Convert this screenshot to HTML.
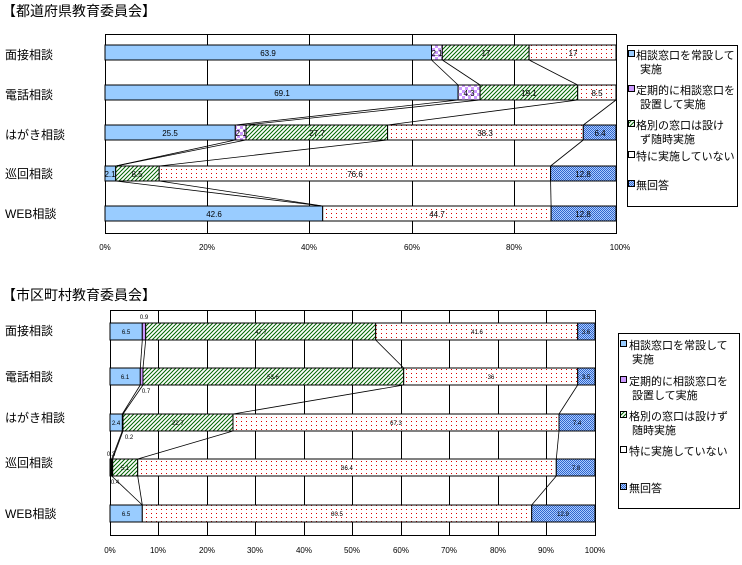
<!DOCTYPE html>
<html><head><meta charset="utf-8"><style>
body{margin:0;background:#fff;width:742px;height:560px;overflow:hidden}
svg text{font-family:"Liberation Sans","Noto Sans CJK JP",sans-serif}
</style></head><body>
<svg width="742" height="560" viewBox="0 0 742 560" xmlns="http://www.w3.org/2000/svg">
<defs>
<pattern id="pu" width="6" height="6" patternUnits="userSpaceOnUse"><rect width="6" height="6" fill="#fff"/><rect width="3" height="3" fill="#cc99ff"/><rect x="3" y="3" width="3" height="3" fill="#cc99ff"/></pattern>
<pattern id="gr" width="4" height="4" patternUnits="userSpaceOnUse"><rect width="4" height="4" fill="#fff"/><path d="M-1,5 L5,-1 M-1,1 L1,-1 M3,5 L5,3" stroke="#006600" stroke-width="1"/></pattern>
<pattern id="dt" width="5" height="4" patternUnits="userSpaceOnUse"><rect width="5" height="4" fill="#fff"/><rect x="1" y="1" width="1" height="1" fill="#dd0000"/></pattern>
<pattern id="nr" width="2" height="2" patternUnits="userSpaceOnUse"><rect width="2" height="2" fill="#aaccff"/><rect width="1" height="1" fill="#3366cc"/><rect x="1" y="1" width="1" height="1" fill="#3366cc"/></pattern>
</defs>

<!-- TOP -->
<text x="2" y="16" font-size="14">【都道府県教育委員会】</text>
<g font-size="12">
<text x="5" y="59">面接相談</text><text x="5" y="99">電話相談</text><text x="5" y="139">はがき相談</text><text x="5" y="178">巡回相談</text><text x="5" y="218">WEB相談</text>
</g>
<g stroke="#000" stroke-width="1">
<line x1="207.5" y1="34" x2="207.5" y2="234"/><line x1="309.5" y1="34" x2="309.5" y2="234"/><line x1="412.5" y1="34" x2="412.5" y2="234"/><line x1="514.5" y1="34" x2="514.5" y2="234"/>
<rect x="105.5" y="34.5" width="511" height="199" fill="none"/>
</g>
<g stroke="#000" stroke-width="1">
<rect x="105" y="45" width="326.5" height="15" fill="#99ccff"/><rect x="431.5" y="45" width="10.8" height="15" fill="url(#pu)"/><rect x="442.3" y="45" width="86.8" height="15" fill="url(#gr)"/><rect x="529.1" y="45" width="86.9" height="15" fill="url(#dt)"/>
<rect x="105" y="85" width="353.1" height="15" fill="#99ccff"/><rect x="458.1" y="85" width="22" height="15" fill="url(#pu)"/><rect x="480.1" y="85" width="97.6" height="15" fill="url(#gr)"/><rect x="577.7" y="85" width="38.3" height="15" fill="url(#dt)"/>
<rect x="105" y="125" width="130.3" height="15" fill="#99ccff"/><rect x="235.3" y="125" width="10.7" height="15" fill="url(#pu)"/><rect x="246" y="125" width="141.6" height="15" fill="url(#gr)"/><rect x="387.6" y="125" width="195.7" height="15" fill="url(#dt)"/><rect x="583.3" y="125" width="32.7" height="15" fill="url(#nr)"/>
<rect x="105" y="166" width="10.7" height="15" fill="#99ccff"/><rect x="115.7" y="166" width="43.5" height="15" fill="url(#gr)"/><rect x="159.2" y="166" width="391.4" height="15" fill="url(#dt)"/><rect x="550.6" y="166" width="65.4" height="15" fill="url(#nr)"/>
<rect x="105" y="206" width="217.7" height="15" fill="#99ccff"/><rect x="322.7" y="206" width="228.4" height="15" fill="url(#dt)"/><rect x="551.1" y="206" width="64.9" height="15" fill="url(#nr)"/>
</g>
<g stroke="#000" stroke-width="0.8">
<line x1="431.5" y1="60" x2="458.1" y2="85"/><line x1="442.3" y1="60" x2="480.1" y2="85"/><line x1="529.1" y1="60" x2="577.7" y2="85"/>
<line x1="458.1" y1="100" x2="235.3" y2="125"/><line x1="480.1" y1="100" x2="246" y2="125"/><line x1="577.7" y1="100" x2="387.6" y2="125"/><line x1="616" y1="100" x2="583.3" y2="125"/>
<line x1="235.3" y1="140" x2="115.7" y2="166"/><line x1="246" y1="140" x2="115.7" y2="166"/><line x1="387.6" y1="140" x2="159.2" y2="166"/><line x1="583.3" y1="140" x2="550.6" y2="166"/>
<line x1="115.7" y1="181" x2="322.7" y2="206"/><line x1="159.2" y1="181" x2="322.7" y2="206"/><line x1="550.6" y1="181" x2="551.1" y2="206"/>
</g>
<g font-size="8" text-anchor="middle">
<text x="268" y="56">63.9</text><text x="437" y="56">2.1</text><text x="486" y="56">17</text><text x="573" y="56">17</text>
<text x="282" y="96">69.1</text><text x="469" y="96">4.3</text><text x="529" y="96">19.1</text><text x="597" y="96">8.5</text>
<text x="170" y="136">25.5</text><text x="241" y="136">2.1</text><text x="317" y="136">27.7</text><text x="485" y="136">38.3</text><text x="600" y="136">6.4</text>
<text x="110" y="177">2.1</text><text x="137" y="177">8.5</text><text x="355" y="177">76.6</text><text x="583" y="177">12.8</text>
<text x="214" y="217">42.6</text><text x="437" y="217">44.7</text><text x="583" y="217">12.8</text>
<text x="105" y="250">0%</text><text x="207" y="250">20%</text><text x="309" y="250">40%</text><text x="412" y="250">60%</text><text x="514" y="250">80%</text><text x="620" y="250">100%</text>
</g>
<rect x="627.5" y="45.5" width="110" height="161" fill="#fff" stroke="#000"/>
<g font-size="11">
<rect x="628.5" y="50.5" width="6" height="6" fill="#99ccff" stroke="#000"/><text x="636" y="59">相談窓口を常設して</text><text x="640" y="73">実施</text>
<rect x="628.5" y="85.5" width="6" height="6" fill="#cc99ff" stroke="#000"/><text x="636" y="94">定期的に相談窓口を</text><text x="640" y="108">設置して実施</text>
<rect x="628.5" y="120.5" width="6" height="6" fill="url(#gr)" stroke="#000"/><text x="636" y="129">格別の窓口は設け</text><text x="640" y="143">ず随時実施</text>
<rect x="628.5" y="151.5" width="6" height="6" fill="#fff" stroke="#000"/><text x="636" y="160">特に実施していない</text>
<rect x="628.5" y="180.5" width="6" height="6" fill="url(#nr)" stroke="#000"/><text x="636" y="189">無回答</text>
</g>

<!-- BOTTOM -->
<text x="2" y="300" font-size="14">【市区町村教育委員会】</text>
<g font-size="12">
<text x="5" y="335">面接相談</text><text x="5" y="381">電話相談</text><text x="5" y="422">はがき相談</text><text x="5" y="467">巡回相談</text><text x="5" y="518">WEB相談</text>
</g>
<g stroke="#000" stroke-width="1">
<line x1="158.5" y1="310" x2="158.5" y2="536"/><line x1="207.5" y1="310" x2="207.5" y2="536"/><line x1="255.5" y1="310" x2="255.5" y2="536"/><line x1="304.5" y1="310" x2="304.5" y2="536"/><line x1="352.5" y1="310" x2="352.5" y2="536"/><line x1="401.5" y1="310" x2="401.5" y2="536"/><line x1="449.5" y1="310" x2="449.5" y2="536"/><line x1="498.5" y1="310" x2="498.5" y2="536"/><line x1="546.5" y1="310" x2="546.5" y2="536"/>
<rect x="110.5" y="310.5" width="485" height="225" fill="none"/>
</g>
<g stroke="#000" stroke-width="1">
<rect x="110" y="323" width="32.3" height="17" fill="#99ccff"/><rect x="142.3" y="323" width="3.4" height="17" fill="#cc99ff"/><rect x="145.7" y="323" width="230" height="17" fill="url(#gr)"/><rect x="375.7" y="323" width="202" height="17" fill="url(#dt)"/><rect x="577.7" y="323" width="17.3" height="17" fill="url(#nr)"/>
<rect x="110" y="368" width="30.3" height="17" fill="#99ccff"/><rect x="140.3" y="368" width="2.7" height="17" fill="#cc99ff"/><rect x="143" y="368" width="260.7" height="17" fill="url(#gr)"/><rect x="403.7" y="368" width="174" height="17" fill="url(#dt)"/><rect x="577.7" y="368" width="17.3" height="17" fill="url(#nr)"/>
<rect x="110" y="414" width="12.3" height="17" fill="#99ccff"/><rect x="123" y="414" width="110" height="17" fill="url(#gr)"/><rect x="233" y="414" width="326" height="17" fill="url(#dt)"/><rect x="559" y="414" width="36" height="17" fill="url(#nr)"/>
<rect x="110" y="459" width="2.7" height="17" fill="#000"/><rect x="112.7" y="459" width="25" height="17" fill="url(#gr)"/><rect x="137.7" y="459" width="418.6" height="17" fill="url(#dt)"/><rect x="556.3" y="459" width="38.7" height="17" fill="url(#nr)"/>
<rect x="110" y="505" width="32.3" height="17" fill="#99ccff"/><rect x="142.3" y="505" width="389.4" height="17" fill="url(#dt)"/><rect x="531.7" y="505" width="63.3" height="17" fill="url(#nr)"/>
</g>
<g stroke="#000" stroke-width="0.8">
<line x1="142.3" y1="340" x2="140.3" y2="368"/><line x1="145.7" y1="340" x2="143" y2="368"/><line x1="375.7" y1="340" x2="403.7" y2="368"/>
<line x1="140.3" y1="385" x2="122.3" y2="414"/><line x1="143" y1="385" x2="123" y2="414"/><line x1="403.7" y1="385" x2="233" y2="414"/><line x1="577.7" y1="385" x2="559" y2="414"/>
<line x1="122.3" y1="431" x2="111.7" y2="459"/><line x1="123" y1="431" x2="112.7" y2="459"/><line x1="233" y1="431" x2="137.7" y2="459"/><line x1="559" y1="431" x2="556.3" y2="459"/>
<line x1="111.7" y1="476" x2="142.3" y2="505"/><line x1="137.7" y1="476" x2="142.3" y2="505"/><line x1="556.3" y1="476" x2="531.7" y2="505"/>
</g>
<g font-size="6" text-anchor="middle">
<text x="126" y="334">6.5</text><text x="144" y="319">0.9</text><text x="261" y="334">47.7</text><text x="477" y="334">41.6</text><text x="586" y="334">3.6</text>
<text x="125" y="379">6.1</text><text x="146" y="393">0.7</text><text x="273" y="379">53.6</text><text x="491" y="379">36</text><text x="586" y="379">3.5</text>
<text x="116" y="425">2.4</text><text x="129" y="439">0.2</text><text x="178" y="425">22.7</text><text x="396" y="425">67.3</text><text x="577" y="425">7.4</text>
<text x="111" y="456">0.3</text><text x="115" y="484">0.4</text><text x="125" y="470">5.1</text><text x="347" y="470">86.4</text><text x="576" y="470">7.8</text>
<text x="126" y="516">6.5</text><text x="337" y="516">80.5</text><text x="563" y="516">12.9</text>
</g>
<g font-size="8" text-anchor="middle">
<text x="110" y="553">0%</text><text x="158" y="553">10%</text><text x="207" y="553">20%</text><text x="255" y="553">30%</text><text x="304" y="553">40%</text><text x="352" y="553">50%</text><text x="401" y="553">60%</text><text x="449" y="553">70%</text><text x="498" y="553">80%</text><text x="546" y="553">90%</text><text x="595" y="553">100%</text>
</g>
<rect x="618.5" y="333.5" width="121" height="175" fill="#fff" stroke="#000"/>
<g font-size="11">
<rect x="620.5" y="340.5" width="6" height="6" fill="#99ccff" stroke="#000"/><text x="629" y="349">相談窓口を常設して</text><text x="632" y="363">実施</text>
<rect x="620.5" y="376.5" width="6" height="6" fill="#cc99ff" stroke="#000"/><text x="629" y="385">定期的に相談窓口を</text><text x="632" y="399">設置して実施</text>
<rect x="620.5" y="411.5" width="6" height="6" fill="url(#gr)" stroke="#000"/><text x="629" y="420">格別の窓口は設けず</text><text x="632" y="434">随時実施</text>
<rect x="620.5" y="446.5" width="6" height="6" fill="#fff" stroke="#000"/><text x="629" y="455">特に実施していない</text>
<rect x="620.5" y="483.5" width="6" height="6" fill="url(#nr)" stroke="#000"/><text x="629" y="492">無回答</text>
</g>
</svg>
</body></html>
